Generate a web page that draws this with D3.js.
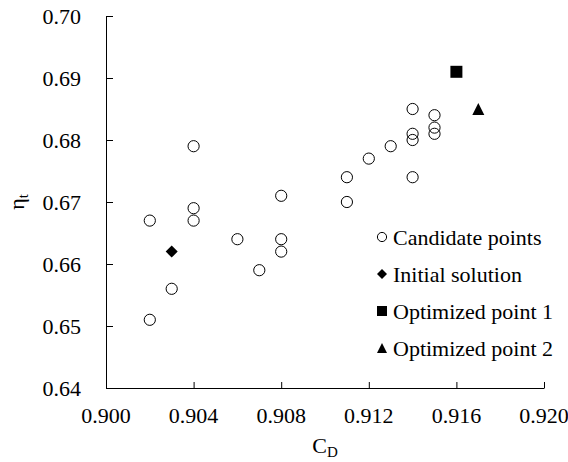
<!DOCTYPE html>
<html>
<head>
<meta charset="utf-8">
<script src="https://cdn.jsdelivr.net/npm/d3@7/dist/d3.min.js"></script>
<style>
  html, body { margin: 0; padding: 0; background: #fff; }
  svg { display: block; }
  text { font-family: "Liberation Serif", "Times New Roman", serif; fill: #000; }
</style>
</head>
<body>
<script>
// Discharge coefficient (C_D) vs. total efficiency (eta_t) of the design points
const candidateCD  = [0.902, 0.902, 0.903, 0.904, 0.904, 0.904, 0.906, 0.907, 0.908, 0.908, 0.908,
                      0.911, 0.911, 0.912, 0.913, 0.914, 0.914, 0.914, 0.914, 0.915, 0.915, 0.915];
const candidateEta = [0.667, 0.651, 0.656, 0.679, 0.669, 0.667, 0.664, 0.659, 0.671, 0.664, 0.662,
                      0.674, 0.670, 0.677, 0.679, 0.685, 0.681, 0.680, 0.674, 0.684, 0.682, 0.681];
const initialCD  = [0.903];
const initialEta = [0.662];
const opt1CD  = [0.916];
const opt1Eta = [0.691];
const opt2CD  = [0.917];
const opt2Eta = [0.685];

const xTicks = [0.900, 0.904, 0.908, 0.912, 0.916, 0.920];
const yTicks = [0.64, 0.65, 0.66, 0.67, 0.68, 0.69, 0.70];
const legendLabels = ["Candidate points", "Initial solution", "Optimized point 1", "Optimized point 2"];

const W = 568, H = 462;
const margin = { left: 106, right: 24, top: 16, bottom: 74 };

const svg = d3.select("body").append("svg").attr("width", W).attr("height", H);
svg.append("rect").attr("width", W).attr("height", H).attr("fill", "#fff");

const x = d3.scaleLinear().domain([0.900, 0.920]).range([margin.left, W - margin.right]);
const y = d3.scaleLinear().domain([0.64, 0.70]).range([H - margin.bottom, margin.top]);

// Axes with inward ticks
const xAxis = svg.append("g").attr("transform", `translate(0,${y(0.64)})`)
  .call(d3.axisTop(x).tickValues(xTicks).tickSize(6).tickSizeOuter(0).tickFormat(d3.format(".3f")));
xAxis.selectAll("text").remove();
const yAxis = svg.append("g").attr("transform", `translate(${x(0.900)},0)`)
  .call(d3.axisRight(y).tickValues(yTicks).tickSize(7).tickSizeOuter(0).tickFormat(d3.format(".2f")));
yAxis.selectAll("text").remove();
svg.selectAll(".domain, .tick line").attr("stroke", "#000").attr("stroke-width", 1);

// Tick labels
svg.append("g").selectAll("text").data(xTicks).join("text")
  .attr("x", d => x(d)).attr("y", y(0.64) + 35)
  .attr("text-anchor", "middle").attr("font-size", 22)
  .text(d3.format(".3f"));
svg.append("g").selectAll("text").data(yTicks).join("text")
  .attr("x", x(0.900) - 25).attr("y", d => y(d)).attr("dy", "0.35em")
  .attr("text-anchor", "end").attr("font-size", 22)
  .text(d3.format(".2f"));

// Axis titles
const xt = svg.append("text").attr("x", (x.range()[0] + x.range()[1]) / 2).attr("y", 453)
  .attr("text-anchor", "middle").attr("font-size", 22);
xt.append("tspan").text("C");
xt.append("tspan").attr("font-size", 15).attr("dy", 4).text("D");

const yt = svg.append("text")
  .attr("transform", `translate(24,${(y.range()[0] + y.range()[1]) / 2}) rotate(-90)`)
  .attr("text-anchor", "middle").attr("font-size", 22);
yt.append("tspan").text("η");
yt.append("tspan").attr("font-size", 15).attr("dy", 4).text("t");

// Marker shapes
const diamond = {
  draw(ctx, size) {
    const r = Math.sqrt(size) / 2;
    ctx.moveTo(0, -r); ctx.lineTo(r, 0); ctx.lineTo(0, r); ctx.lineTo(-r, 0); ctx.closePath();
  }
};
const triangle = {
  draw(ctx, size) {
    const r = Math.sqrt(size) / 2;
    ctx.moveTo(0, -r); ctx.lineTo(r, r); ctx.lineTo(-r, r); ctx.closePath();
  }
};

const plot = svg.append("g");
plot.selectAll("circle.cand").data(d3.range(candidateCD.length)).join("circle")
  .attr("class", "cand")
  .attr("cx", i => x(candidateCD[i])).attr("cy", i => y(candidateEta[i]))
  .attr("r", 5.6).attr("fill", "none").attr("stroke", "#000").attr("stroke-width", 1);

plot.selectAll("path.init").data(d3.range(initialCD.length)).join("path")
  .attr("class", "init")
  .attr("transform", i => `translate(${x(initialCD[i])},${y(initialEta[i])})`)
  .attr("d", d3.symbol(diamond, 144)()).attr("fill", "#000");

plot.selectAll("path.opt1").data(d3.range(opt1CD.length)).join("path")
  .attr("class", "opt1")
  .attr("transform", i => `translate(${x(opt1CD[i])},${y(opt1Eta[i])})`)
  .attr("d", d3.symbol(d3.symbolSquare, 144)()).attr("fill", "#000");

plot.selectAll("path.opt2").data(d3.range(opt2CD.length)).join("path")
  .attr("class", "opt2")
  .attr("transform", i => `translate(${x(opt2CD[i])},${y(opt2Eta[i])})`)
  .attr("d", d3.symbol(triangle, 144)()).attr("fill", "#000");

// Legend
const legend = svg.append("g").attr("transform", "translate(382,237)");
const rows = legend.selectAll("g").data(legendLabels).join("g")
  .attr("transform", (d, i) => `translate(0,${i * 37})`);
rows.each(function (d, i) {
  const g = d3.select(this);
  if (i === 0) {
    g.append("circle").attr("r", 4.6).attr("fill", "none").attr("stroke", "#000").attr("stroke-width", 1);
  } else {
    const type = [null, diamond, d3.symbolSquare, triangle][i];
    g.append("path").attr("d", d3.symbol(type, 100)()).attr("fill", "#000");
  }
  g.append("text").attr("x", 11).attr("y", 7.5).attr("font-size", 22).text(d);
});
</script>
</body>
</html>
